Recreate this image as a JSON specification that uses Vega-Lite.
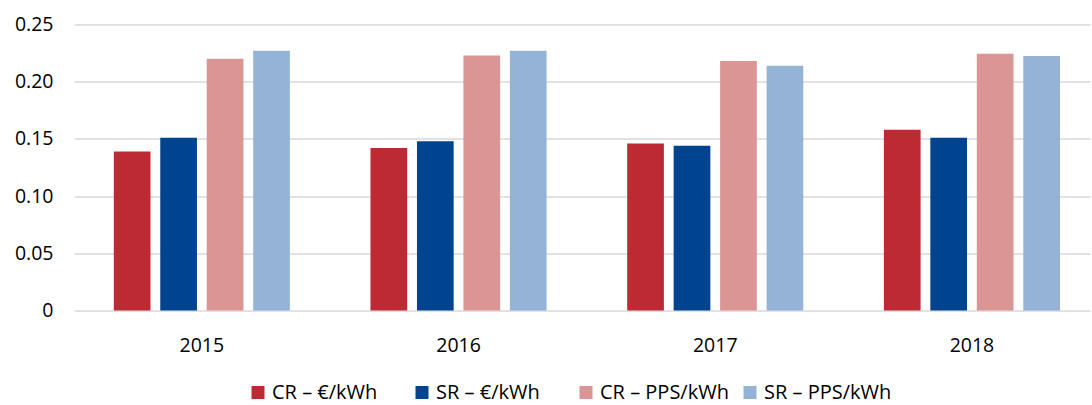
{
  "$schema": "https://vega.github.io/schema/vega-lite/v6.json",
  "autosize": {"type": "none"},
  "width": 1016,
  "height": 286,
  "padding": {"left": 74, "top": 24.5, "right": 2, "bottom": 94.5},
  "background": "white",
  "config": {
    "font": "Open Sans",
    "view": {"stroke": null}
  },
  "data": {
    "values": [
      {"year": "2015", "series": "CR – €/kWh", "value": 0.139},
      {"year": "2015", "series": "SR – €/kWh", "value": 0.151},
      {"year": "2015", "series": "CR – PPS/kWh", "value": 0.220},
      {"year": "2015", "series": "SR – PPS/kWh", "value": 0.227},
      {"year": "2016", "series": "CR – €/kWh", "value": 0.142},
      {"year": "2016", "series": "SR – €/kWh", "value": 0.148},
      {"year": "2016", "series": "CR – PPS/kWh", "value": 0.223},
      {"year": "2016", "series": "SR – PPS/kWh", "value": 0.227},
      {"year": "2017", "series": "CR – €/kWh", "value": 0.146},
      {"year": "2017", "series": "SR – €/kWh", "value": 0.144},
      {"year": "2017", "series": "CR – PPS/kWh", "value": 0.218},
      {"year": "2017", "series": "SR – PPS/kWh", "value": 0.214},
      {"year": "2018", "series": "CR – €/kWh", "value": 0.158},
      {"year": "2018", "series": "SR – €/kWh", "value": 0.151},
      {"year": "2018", "series": "CR – PPS/kWh", "value": 0.2245},
      {"year": "2018", "series": "SR – PPS/kWh", "value": 0.2225}
    ]
  },
  "mark": {"type": "bar"},
  "encoding": {
    "x": {
      "field": "year",
      "type": "nominal",
      "scale": {"paddingInner": 0.314, "paddingOuter": 0.136, "align": 0.57},
      "axis": {
        "title": null,
        "labelAngle": 0,
        "ticks": false,
        "domain": false,
        "labelPadding": 26,
        "labelFontSize": 19.5,
        "labelColor": "#000000"
      }
    },
    "xOffset": {
      "field": "series",
      "type": "nominal",
      "sort": ["CR – €/kWh", "SR – €/kWh", "CR – PPS/kWh", "SR – PPS/kWh"],
      "scale": {"paddingInner": 0.21, "paddingOuter": 0}
    },
    "y": {
      "field": "value",
      "type": "quantitative",
      "scale": {"domain": [0, 0.25], "nice": false},
      "axis": {
        "title": null,
        "values": [0, 0.05, 0.1, 0.15, 0.2, 0.25],
        "labelExpr": "datum.value == 0 ? '0' : format(datum.value, '.2f')",
        "ticks": false,
        "domain": false,
        "labelPadding": 21,
        "labelFontSize": 19.5,
        "labelColor": "#000000",
        "gridColor": "#D9D9D9",
        "gridWidth": 1.4
      }
    },
    "color": {
      "field": "series",
      "type": "nominal",
      "scale": {
        "domain": ["CR – €/kWh", "SR – €/kWh", "CR – PPS/kWh", "SR – PPS/kWh"],
        "range": ["#BE2A34", "#00448F", "#DA9594", "#95B3D7"]
      },
      "legend": {
        "title": null,
        "orient": "none",
        "legendX": 174,
        "legendY": 358,
        "direction": "horizontal",
        "columns": 4,
        "gridAlign": "all",
        "columnPadding": 11,
        "padding": 0,
        "symbolType": "square",
        "symbolSize": 169,
        "symbolStrokeWidth": 0,
        "labelFontSize": 20,
        "labelColor": "#000000",
        "labelOffset": 4,
        "labelLimit": 300
      }
    }
  }
}
